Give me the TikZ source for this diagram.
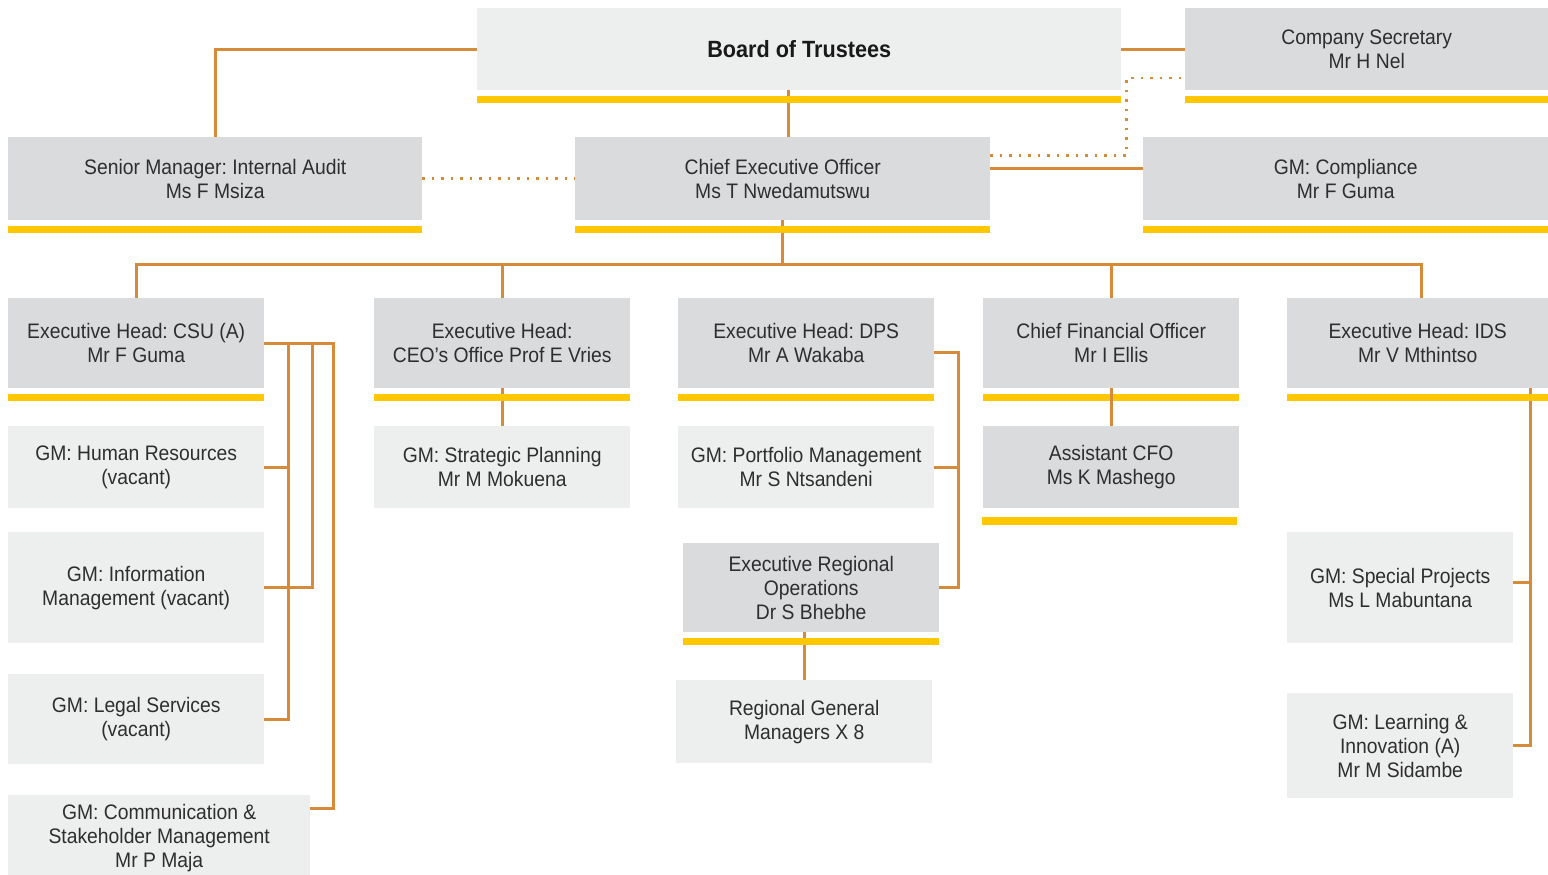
\documentclass[tikz,border=0pt]{standalone}
\usepackage{fontspec}
\setmainfont{Liberation Sans}[FakeStretch=0.92]
\usepackage{tikz}
\usetikzlibrary{positioning,calc}
\definecolor{ink}{HTML}{2E2E2E}
\definecolor{boxdark}{HTML}{DADBDD}
\definecolor{boxlight}{HTML}{EDEEEE}
\definecolor{gold}{HTML}{FFC700}
\definecolor{linkorange}{HTML}{D68B3A}
\frenchspacing
\tikzset{
  every node/.style={font=\fontsize{21}{24}\selectfont, text=ink},
  headbox/.style={
    rectangle, fill=boxdark, anchor=north west,
    inner sep=0pt, align=center
  },
  unitbox/.style={
    rectangle, fill=boxlight, anchor=north west,
    inner sep=0pt, align=center
  },
  link/.style={draw=linkorange, line width=3pt},
  dotlink/.style={draw=linkorange, line width=2.5pt, dash pattern=on 2.5pt off 7pt},
}

\begin{document}
\begin{tikzpicture}[x=1pt, y=-1pt]
  \fill[white] (0,0) rectangle (1548,875);
  \useasboundingbox (0,0) rectangle (1548,875);

  % top level
  \node[unitbox, minimum width=644pt, minimum height=82pt, font=\fontsize{23.5}{26}\selectfont\bfseries, text=black!90] (board) at (477,8) {Board of Trustees};
  \node[headbox, minimum width=363pt, minimum height=82pt] (cosec) at (1185,8) {Company Secretary\\Mr H Nel};
  \node[headbox, minimum width=414pt, minimum height=83pt] (sm) at (8,137) {Senior Manager: Internal Audit\\Ms F Msiza};
  \node[headbox, minimum width=415pt, minimum height=83pt] (ceo) at (575,137) {Chief Executive Officer\\Ms T Nwedamutswu};
  \node[headbox, minimum width=405pt, minimum height=83pt] (comp) at (1143,137) {GM: Compliance\\Mr F Guma};

  % executive heads
  \node[headbox, minimum width=256pt, minimum height=90pt] (csu) at (8,298) {Executive Head: CSU (A)\\Mr F Guma};
  \node[headbox, minimum width=256pt, minimum height=90pt] (ceoo) at (374,298) {Executive Head:\\CEO’s Office Prof E Vries};
  \node[headbox, minimum width=256pt, minimum height=90pt] (dps) at (678,298) {Executive Head: DPS\\Mr A Wakaba};
  \node[headbox, minimum width=256pt, minimum height=90pt] (cfo) at (983,298) {Chief Financial Officer\\Mr I Ellis};
  \node[headbox, minimum width=261pt, minimum height=90pt] (ids) at (1287,298) {Executive Head: IDS\\Mr V Mthintso};

  % units
  \node[unitbox, minimum width=256pt, minimum height=82pt] (hr) at (8,426) {GM: Human Resources\\(vacant)};
  \node[unitbox, minimum width=256pt, minimum height=111pt] (info) at (8,532) {GM: Information\\Management (vacant)};
  \node[unitbox, minimum width=256pt, minimum height=90pt] (legal) at (8,674) {GM: Legal Services\\(vacant)};
  \node[unitbox, minimum width=302pt, minimum height=85pt] (comm) at (8,795) {GM: Communication \&\\Stakeholder Management\\Mr P Maja};
  \node[unitbox, minimum width=256pt, minimum height=82pt] (strat) at (374,426) {GM: Strategic Planning\\Mr M Mokuena};
  \node[unitbox, minimum width=256pt, minimum height=82pt] (port) at (678,426) {GM: Portfolio Management\\Mr S Ntsandeni};
  \node[headbox, minimum width=256pt, minimum height=89pt] (ero) at (683,543) {Executive Regional\\Operations\\Dr S Bhebhe};
  \node[unitbox, minimum width=256pt, minimum height=83pt] (rgm) at (676,680) {Regional General\\Managers X 8};
  \node[headbox, minimum width=256pt, minimum height=82pt] (acfo) at (983,426) {Assistant CFO\\Ms K Mashego};
  \node[unitbox, minimum width=226pt, minimum height=111pt] (spec) at (1287,532) {GM: Special Projects\\Ms L Mabuntana};
  \node[unitbox, minimum width=226pt, minimum height=105pt] (learn) at (1287,693) {GM: Learning \&\\Innovation (A)\\Mr M Sidambe};

  % board and CEO links
  \draw[link] (board.west) -| (sm.north);
  \draw[link] (board.east) -- (cosec.west);
  \draw[link] ([xshift=6pt]ceo.north) -- ([xshift=6pt]ceo.north |- board.south);
  \draw[dotlink] (sm.east) -- (ceo.west);
  \draw[link] ([yshift=10pt]ceo.east) -- ([yshift=10pt]ceo.east -| comp.west);
  \draw[dotlink] ([yshift=23pt]ceo.east) -- ++(136,0) coordinate (dk) |- ([yshift=-29pt]cosec.west);

  % bus to executive heads
  \coordinate (bus) at (783,264);
  \draw[link] (ceo.south) -- (ceo.south |- bus);
  \draw[link] (csu.north) |- (bus) -| ([xshift=4pt]ids.north);
  \foreach \n in {ceoo,cfo}
    \draw[link] (\n.north) -- (\n.north |- bus);

  % CSU
  \draw[link] (csu.east) -- ++(24,0) |- (legal.east);
  \draw[link] (csu.east) -- ++(48,0) |- (info.east);
  \draw[link] (csu.east) -- ++(69,0) |- ([yshift=29pt]comm.east);
  \draw[link] (hr.east) -- ++(24,0);

  % CEO's office, DPS
  \draw[link] (ceoo.south) -- (strat.north);
  \draw[link] ([yshift=-9pt]dps.east) -- ++(24,0) |- (ero.east);
  \draw[link] (port.east) -- ++(24,0);
  \draw[link] (rgm.north) -- (rgm.north |- ero.south);

  % IDS
  \draw[link] (learn.east) -- ++(17,0) coordinate (idsl) -- (idsl |- ids.south);
  \draw[link] ([yshift=5pt]spec.east) -- ++(17,0);

  % yellow bars
  \foreach \n in {board,cosec,sm,ceo,comp,csu,ceoo,dps,cfo,ids,ero}
    \fill[gold] ([yshift=-6pt]\n.south west) rectangle ([yshift=-13pt]\n.south east);
  \fill[gold] ([yshift=-9pt,xshift=-1pt]acfo.south west) rectangle ([yshift=-17pt,xshift=-2pt]acfo.south east);

  % CFO link crosses its bar
  \draw[link] (cfo.south) -- (acfo.north);
\end{tikzpicture}
\end{document}
